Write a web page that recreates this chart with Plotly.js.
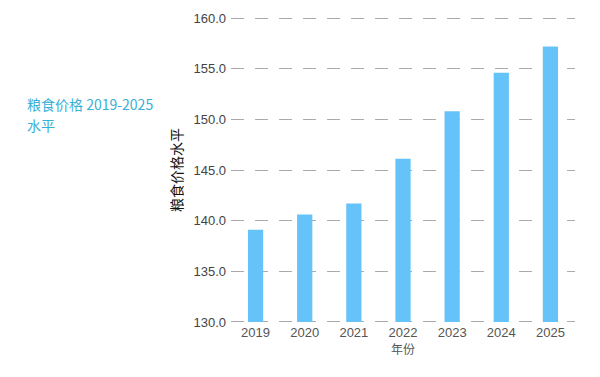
<!DOCTYPE html>
<html>
<head>
<meta charset="utf-8">
<script src="https://cdn.plot.ly/plotly-3.0.1.min.js"></script>
<style>html,body{margin:0;padding:0;background:#fff;}#chart{width:600px;height:377px;}</style>
</head>
<body>
<div id="chart"></div>
<script>
const years = ["2019", "2020", "2021", "2022", "2023", "2024", "2025"];
const priceLevel = [139.1, 140.6, 141.7, 146.1, 150.8, 154.6, 157.2];
const yTicks = [130, 135, 140, 145, 150, 155, 160];
const baseLevel = 130;

const trace = {
  type: "bar",
  x: years,
  y: priceLevel.map(v => v - baseLevel),
  base: baseLevel,
  marker: { color: "#66C3FA" },
  width: 0.31,
  hoverinfo: "x+y"
};

const layout = {
  width: 600, height: 377,
  margin: { l: 231, r: 25, t: 17, b: 54 },
  paper_bgcolor: "#ffffff",
  plot_bgcolor: "#ffffff",
  font: { family: "Liberation Sans, Arial, sans-serif", color: "#555555", size: 13 },
  showlegend: false,
  xaxis: {
    type: "category",
    tickfont: { size: 13, color: "#555555" },
    showgrid: false, zeroline: false, showline: false, ticks: "",
    title: { text: "年份", font: { family: "Noto Sans CJK SC", size: 12, color: "#555555" }, standoff: 4 }
  },
  yaxis: {
    range: [129.9, 160.1],
    tickvals: yTicks,
    ticktext: yTicks.map(v => v.toFixed(1)),
    tickfont: { size: 13, color: "#444444" },
    showgrid: true,
    gridcolor: "#aaaaaa",
    gridwidth: 1,
    griddash: "13px,11px",
    zeroline: false, showline: false, ticks: "",
    ticklabelstandoff: 4,
    title: { text: "粮食价格水平", font: { family: "Noto Sans CJK SC", size: 14, color: "#111111" }, standoff: 7 }
  },
  annotations: [
    {
      xref: "paper", yref: "paper", x: -0.6, y: 0.715, xanchor: "left", yanchor: "middle",
      align: "left", showarrow: false,
      text: "粮食价格 2019-2025",
      font: { family: "Noto Sans CJK SC", size: 14, color: "#3AAFD6" }
    },
    {
      xref: "paper", yref: "paper", x: -0.6, y: 0.648, xanchor: "left", yanchor: "middle",
      align: "left", showarrow: false,
      text: "水平",
      font: { family: "Noto Sans CJK SC", size: 14, color: "#3AAFD6" }
    }
  ]
};

Plotly.newPlot("chart", [trace], layout, { displayModeBar: false, staticPlot: true });
</script>
</body>
</html>
